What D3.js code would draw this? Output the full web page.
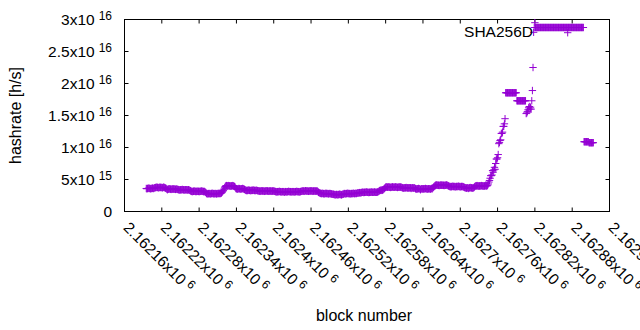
<!DOCTYPE html>
<meta charset="utf-8">
<script src="https://d3js.org/d3.v7.min.js"></script>
<style>body { margin: 0; background: white; }</style>
<div id="chart"></div>
<script>

// block number of the first value below, values follow block by block
const firstBlock = 2162195;

// hashrate per block, in units of 1e15 h/s
const hashrate = [
  3.6,3.55,3.6,3.6,3.65,3.6,3.6,3.55,3.6,3.6,3.65,3.6,3.6,3.7,3.7,
  3.75,3.75,3.8,3.75,3.75,3.7,3.75,3.8,3.75,3.75,3.75,3.7,3.75,3.8,3.75,3.7,3.65,3.6,
  3.5,3.4,3.5,3.5,3.55,3.5,3.5,3.45,3.5,3.5,3.55,3.5,3.5,3.5,3.45,3.5,3.5,3.45,3.45,
  3.4,3.4,3.35,3.4,3.4,3.4,3.45,3.4,3.4,3.35,3.4,3.4,3.4,3.4,3.35,3.4,3.4,3.35,3.3,3.25,
  3.15,3.15,3.1,3.15,3.15,3.2,3.15,3.15,3.1,3.15,3.15,3.15,3.15,3.1,3.15,3.15,3.15,3.2,3.15,3.15,3.1,3.15,3.1,3.0,2.95,
  2.8,2.8,2.75,2.8,2.8,2.8,2.75,2.8,2.8,2.85,2.8,2.8,2.75,2.8,2.8,2.8,2.75,2.8,2.8,2.8,2.85,2.8,2.8,2.85,
  2.9,3.0,3.15,3.3,3.5,3.7,3.9,
  4.0,4.05,4.0,4.0,4.05,4.0,4.0,4.0,3.95,4.0,4.0,4.05,4.0,3.95,3.9,3.8,
  3.6,3.55,3.55,3.5,3.55,3.6,3.55,3.55,3.5,3.55,3.55,3.6,3.55,3.5,3.45,3.4,
  3.3,3.3,3.25,3.3,3.35,3.3,3.3,3.3,3.25,3.3,3.3,3.3,3.35,3.3,3.3,3.25,3.3,3.3,3.3,3.25,3.25,
  3.2,3.2,3.15,3.2,3.2,3.25,3.2,3.2,3.2,3.15,3.2,3.2,3.2,3.25,3.2,3.2,3.15,3.2,3.2,3.2,3.2,3.15,3.2,3.2,3.2,3.15,3.15,
  3.1,3.1,3.05,3.1,3.1,3.1,3.15,3.1,3.1,3.05,3.1,3.1,3.1,3.1,3.0,3.1,3.1,3.1,3.05,3.1,
  3.1,3.15,3.1,3.1,3.1,3.05,3.1,3.1,3.1,3.1,3.05,3.1,3.1,3.1,3.15,3.1,3.1,3.1,3.05,3.1,3.1,3.15,3.15,
  3.2,3.2,3.2,3.15,3.2,3.25,3.2,3.2,3.2,3.2,3.15,3.2,3.2,3.2,3.25,3.2,3.2,3.15,3.2,3.2,3.2,3.2,3.15,3.2,3.2,3.1,3.0,2.95,2.9,
  2.85,2.8,2.8,2.85,2.8,2.8,2.75,2.8,2.8,2.85,2.8,2.8,2.8,2.75,2.8,2.8,2.8,2.75,2.75,2.7,2.7,2.7,
  2.65,2.65,2.6,2.65,2.65,2.65,2.6,2.65,2.65,2.7,2.65,2.65,2.6,2.65,2.7,2.7,
  2.8,2.8,2.75,2.8,2.8,2.8,2.85,2.8,2.8,2.8,2.75,2.8,2.8,2.8,2.8,2.85,2.8,2.8,2.8,2.85,2.8,2.85,2.9,2.9,2.9,2.95,2.9,2.95,2.95,3.0,
  3.0,3.0,2.95,3.0,3.0,3.0,3.05,3.0,3.0,3.0,2.95,3.0,3.0,3.0,3.05,3.0,3.0,3.0,3.0,3.05,3.0,3.0,3.0,3.0,3.05,3.1,3.15,
  3.25,3.3,3.3,3.35,3.3,3.35,3.4,3.5,3.6,3.7,
  3.8,3.85,3.8,3.8,3.8,3.85,3.8,3.8,3.75,3.8,3.8,3.85,3.8,3.8,3.8,3.8,3.85,3.8,3.8,3.75,3.8,3.8,3.8,3.85,3.8,3.8,3.75,
  3.7,3.7,3.65,3.7,3.7,3.7,3.75,3.7,3.7,3.65,3.7,3.7,3.7,3.7,3.6,3.7,3.7,3.7,3.65,3.7,3.65,
  3.55,3.55,3.5,3.55,3.55,3.6,3.55,3.55,3.4,3.55,3.55,3.55,3.5,3.55,3.55,3.55,3.6,3.55,3.55,3.5,
  3.55,3.55,3.55,3.55,3.5,3.55,3.6,3.55,3.7,3.8,3.9,4.0,
  4.1,4.1,4.15,4.1,4.1,4.1,4.05,4.1,4.1,4.15,4.1,4.1,4.1,4.1,4.05,4.1,4.1,4.1,4.15,4.1,4.05,4.0,3.95,
  3.9,3.9,3.85,3.9,3.9,3.95,3.9,3.9,3.9,3.85,3.9,3.9,3.9,3.9,3.95,3.9,3.9,3.85,3.9,3.9,3.9,3.9,3.85,3.8,3.75,
  3.7,3.7,3.65,3.7,3.7,3.6,3.7,3.7,3.75,3.7,3.7,3.7,3.65,3.7,3.75,3.85,3.95,
  4.0,4.0,4.05,4.0,4.0,3.95,4.0,4.0,4.0,4.05,4.0,4.0,4.0,3.95,4.0,4.0,4.05,4.0,4.0,4.1,
  4.3,4.6,4.85,5.2,5.6,5.6,5.7,6.4,6.15,6.5,6.9,6.6,7.5,8.2,8.2,8.4,8.9,10.6,10.8,11.1,
  11.2,12.2,12.2,12.4,13.3,13.3,13.7,14.5,
  18.55,18.55,18.55,18.55,18.55,18.55,18.55,18.55,18.55,18.55,18.55,18.55,18.55,18.55,18.55,18.55,18.55,18.55,
  17.3,17.3,17.3,17.3,17.3,17.3,17.3,17.3,17.3,17.3,17.3,17.3,17.3,17.3,17.3,
  15.3,15.4,15.6,15.9,16.2,16.4,16.0,16.3,16.0,17.3,18.9,22.5,28.0,28.75,29.5,
  28.75,28.75,28.75,28.75,28.75,28.75,28.75,28.75,28.75,28.75,28.75,28.75,28.75,
  28.75,28.75,28.75,28.75,28.75,28.75,28.75,28.75,28.75,28.75,28.75,28.75,28.75,
  28.75,28.75,28.75,28.75,28.75,28.75,28.75,28.75,28.75,28.75,28.75,28.75,28.75,
  28.75,28.75,28.75,28.75,28.75,28.75,28.75,28.75,28.75,28.75,28.75,28.75,28.75,
  28.75,28.75,28.75,28.75,28.75,28.75,28.75,28.75,28.75,28.75,28.75,28.75,28.75,
  28.75,28.75,28.75,28.75,28.75,28.75,28.75,28.75,28.75,28.75,28.75,28.75,28.75,
  10.9,10.9,10.9,10.9,10.9,10.9,10.9,10.9,10.75,10.75,10.75,10.75,10.75,10.75,10.75,10.75
];

// x axis ticks (block numbers) and their mantissa text (x10^6)
const xTicks = [2162160, 2162220, 2162280, 2162340, 2162400, 2162460, 2162520,
                2162580, 2162640, 2162700, 2162760, 2162820, 2162880, 2162940];
const xTickText = ["2.16216", "2.16222", "2.16228", "2.16234", "2.1624", "2.16246", "2.16252",
                   "2.16258", "2.16264", "2.1627", "2.16276", "2.16282", "2.16288", "2.16294"];

// y axis ticks (1e15 h/s) and their labels as mantissa + exponent
const yTicks = [0, 5, 10, 15, 20, 25, 30];
const yTickMant = ["0", "5", "1", "1.5", "2", "2.5", "3"];
const yTickExp = ["", "15", "16", "16", "16", "16", "16"];

const seriesName = "SHA256D";
const color = "#9400d3";

// plot frame
const plotLeft = 124.5, plotRight = 609.5, plotTop = 19.5, plotBottom = 211.5;

const svg = d3.select("#chart")
  .append("svg")
    .attr("width", 640)
    .attr("height", 330)
    .style("background", "white")
    .style("font-family", "'Liberation Sans', Arial, sans-serif");

const x = d3.scaleLinear()
  .domain([xTicks[0], xTicks[xTicks.length - 1]])
  .range([plotLeft, plotRight]);
const y = d3.scaleLinear()
  .domain([0, 30])
  .range([plotBottom, plotTop]);

// border
svg.append("rect")
  .attr("x", plotLeft).attr("y", plotTop)
  .attr("width", plotRight - plotLeft).attr("height", plotBottom - plotTop)
  .attr("fill", "none").attr("stroke", "black");

// inward ticks on all four sides, gnuplot style
function ticks(axis, tx, ty) {
  svg.append("g")
    .attr("transform", "translate(" + tx + "," + ty + ")")
    .call(axis.tickSizeInner(-4).tickSizeOuter(0).tickFormat("").offset(0))
    .call(g => g.select(".domain").remove())
    .selectAll("line").attr("stroke", "black");
}
ticks(d3.axisBottom(x).tickValues(xTicks), 0, plotBottom);
ticks(d3.axisTop(x).tickValues(xTicks), 0, plotTop);
ticks(d3.axisLeft(y).tickValues(yTicks), plotLeft, 0);
ticks(d3.axisRight(y).tickValues(yTicks), plotRight, 0);

// y tick labels with superscript exponent
yTicks.forEach((v, i) => {
  const t = svg.append("text")
    .attr("x", 112)
    .attr("y", y(v) + 5)
    .attr("text-anchor", "end")
    .attr("font-size", 15.5)
    .attr("fill", "black");
  t.append("tspan").text(yTickMant[i] + (yTickExp[i] ? "x10" : ""));
  if (yTickExp[i]) {
    t.append("tspan").attr("dx", 4).attr("dy", -5).attr("font-size", 12).text(yTickExp[i]);
  }
});

// x tick labels, rotated 45 degrees
xTicks.forEach((v, i) => {
  const px = x(v) - 2, py = 228.5;
  const t = svg.append("text")
    .attr("x", px).attr("y", py)
    .attr("transform", "rotate(45," + px + "," + py + ")")
    .attr("font-size", 15.5)
    .attr("fill", "black");
  t.append("tspan").text(xTickText[i] + "x10");
  t.append("tspan").attr("dx", 4).attr("dy", -5).attr("font-size", 12).text("6");
});

// axis titles
svg.append("text")
  .attr("transform", "translate(21,115.5) rotate(-90)")
  .attr("text-anchor", "middle")
  .attr("font-size", 16)
  .text("hashrate [h/s]");
svg.append("text")
  .attr("x", 364).attr("y", 321)
  .attr("text-anchor", "middle")
  .attr("font-size", 16)
  .text("block number");

// plus marker path
function plus(cx, cy) {
  return "M" + (cx - 3.7) + "," + cy + "h7.4M" + cx + "," + (cy - 3.7) + "v7.4";
}

// data points
svg.append("g")
  .selectAll("path")
  .data(hashrate)
  .join("path")
    .attr("d", (d, i) => plus(x(firstBlock + i), y(d)))
    .attr("fill", "none")
    .attr("stroke", color)
    .attr("stroke-width", 1);

// key
svg.append("text")
  .attr("x", 533).attr("y", 36.5)
  .attr("text-anchor", "end")
  .attr("font-size", 15.5)
  .text(seriesName);
svg.append("path")
  .attr("d", plus(567.7, 32.7))
  .attr("fill", "none")
  .attr("stroke", color);

</script>
